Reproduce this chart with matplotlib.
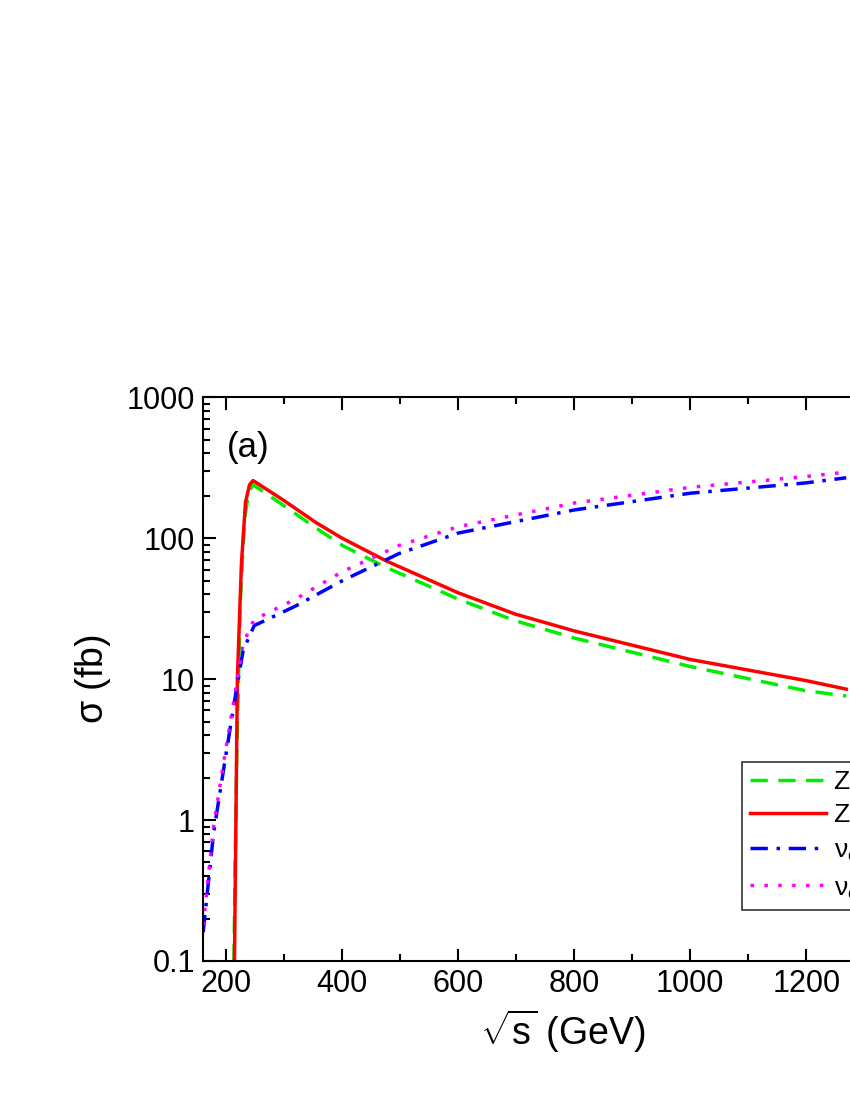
import numpy as np
import matplotlib
matplotlib.use("Agg")
import matplotlib.pyplot as plt
from matplotlib.ticker import MultipleLocator, LogLocator, NullFormatter

plt.rcParams["font.family"] = "Liberation Sans"
plt.rcParams["mathtext.fontset"] = "custom"
plt.rcParams["mathtext.rm"] = "Liberation Sans"
plt.rcParams["mathtext.it"] = "Liberation Sans"

# sqrt(s) in GeV, sigma in fb
zh_lo_s = [213, 218, 224, 231, 238, 246, 298, 355, 400, 476, 600, 698, 800, 1000, 1198, 1269]
zh_lo = [0.1, 3.0, 35, 130, 210, 240, 172, 118, 89, 62, 37, 26, 19.6, 12.3, 8.3, 7.6]

zh_nlo_s = [214, 219, 226, 233, 240, 246, 298, 355, 400, 476, 600, 698, 800, 1000, 1198, 1269]
zh_nlo = [0.1, 10, 66, 180, 240, 257, 187, 129, 100, 69, 41, 29, 22, 13.8, 9.8, 8.5]

nn_lo_s = [160, 178, 198, 219, 229, 248, 319, 400, 498, 600, 800, 1000, 1198, 1269]
nn_lo = [0.16, 0.81, 2.7, 9.3, 16, 24, 33, 50, 78, 109, 159, 209, 247, 269]

nn_nlo_s = [160, 178, 198, 219, 229, 248, 319, 400, 498, 600, 800, 1000, 1198, 1269]
nn_nlo = [0.18, 0.9, 3.0, 10, 18, 26.5, 37, 58, 89, 121, 178, 230, 274, 295]

labels = ["ZH (LO)", "ZH (NLO)",
          r"$\nu_e\bar{\nu}_e$H (LO)", r"$\nu_e\bar{\nu}_e$H (NLO)"]

fig = plt.figure(figsize=(8.5, 11), dpi=100)
ax = fig.add_axes([0.239, 0.1264, 0.846, 0.5123])

ax.plot(zh_lo_s, zh_lo, color="#00ee00", ls=(0, (5, 3)), lw=2.5, label=labels[0])
ax.plot(zh_nlo_s, zh_nlo, color="red", ls="-", lw=2.5, label=labels[1])
ax.plot(nn_lo_s, nn_lo, color="blue", ls=(0, (5, 2.5, 1, 2.5)), lw=2.5, label=labels[2])
ax.plot(nn_nlo_s, nn_nlo, color="magenta", ls=(0, (1, 3)), lw=2.5, label=labels[3])

ax.set_yscale("log")
ax.set_xlim(160, 1400)
ax.set_ylim(0.1, 1000)
ax.xaxis.set_major_locator(MultipleLocator(200))
ax.xaxis.set_minor_locator(MultipleLocator(100))
ax.yaxis.set_minor_locator(LogLocator(base=10, subs=np.arange(2, 10)))
ax.yaxis.set_minor_formatter(NullFormatter())
ax.set_yticks([0.1, 1, 10, 100, 1000])
ax.set_yticklabels(["0.1", "1", "10", "100", "1000"])
ax.tick_params(which="both", direction="in", top=True, right=True, labelsize=22, width=1.5)
ax.tick_params(which="major", length=9, pad=6)
ax.tick_params(which="minor", length=5)
for sp in ax.spines.values():
    sp.set_linewidth(1.5)

ax.set_xlabel(r"$\sqrt{s}$ (GeV)", fontsize=27, labelpad=6)
ax.set_ylabel(r"$\sigma$ (fb)", fontsize=27, labelpad=10)
ax.text(0.033, 0.94, "(a)", transform=ax.transAxes, fontsize=25, va="top")

leg = ax.legend(loc="upper left", bbox_to_anchor=(742 / 850, 1 - 762 / 1100),
                bbox_transform=fig.transFigure, fontsize=19, frameon=True,
                fancybox=False, edgecolor="black", handlelength=2.9,
                handletextpad=0.3, borderpad=0.3, labelspacing=0.35,
                borderaxespad=0)
leg.get_frame().set_linewidth(1.2)

fig.savefig("out.png", dpi=100)
